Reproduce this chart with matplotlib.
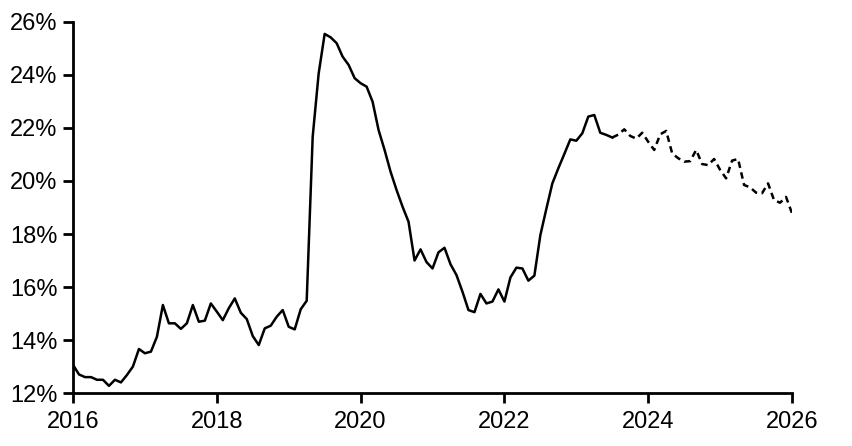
import numpy as np
import matplotlib
matplotlib.use("Agg")
import matplotlib.pyplot as plt
from matplotlib.ticker import FuncFormatter

plt.rcParams['font.family'] = ['Liberation Sans Narrow', 'Liberation Sans', 'DejaVu Sans']

# monthly values, Jan 2016 .. Jan 2026 (in %)
y2016 = [13.06, 12.70, 12.60, 12.60, 12.50, 12.50, 12.27, 12.50, 12.40, 12.68, 13.00, 13.66]
y2017 = [13.50, 13.56, 14.12, 15.32, 14.63, 14.63, 14.42, 14.63, 15.32, 14.69, 14.73, 15.38]
y2018 = [15.07, 14.75, 15.20, 15.57, 15.03, 14.79, 14.15, 13.81, 14.44, 14.54, 14.88, 15.13]
y2019 = [14.50, 14.40, 15.16, 15.48, 21.67, 24.06, 25.55, 25.42, 25.20, 24.69, 24.38, 23.88]
y2020 = [23.69, 23.56, 22.99, 21.92, 21.17, 20.35, 19.66, 19.03, 18.46, 17.00, 17.42, 16.94]
y2021 = [16.70, 17.31, 17.48, 16.86, 16.45, 15.82, 15.13, 15.05, 15.74, 15.38, 15.45, 15.91]
y2022 = [15.45, 16.36, 16.73, 16.70, 16.24, 16.43, 17.96, 18.95, 19.91, 20.48, 21.02, 21.57]
y2023 = [21.52, 21.80, 22.43, 22.49, 21.82, 21.74, 21.64, 21.75, 21.95, 21.70, 21.60, 21.82]
y2024 = [21.48, 21.17, 21.76, 21.89, 21.04, 20.86, 20.73, 20.75, 21.17, 20.64, 20.60, 20.83]
y2025 = [20.42, 20.10, 20.77, 20.83, 19.85, 19.76, 19.56, 19.54, 19.91, 19.28, 19.18, 19.40]
y2026 = [18.78]

values = np.array(y2016 + y2017 + y2018 + y2019 + y2020 + y2021 + y2022
                  + y2023 + y2024 + y2025 + y2026)
dates = 2016 + np.arange(len(values)) / 12
split = 7 * 12 + 6  # Jul 2023: actual -> forecast

fig = plt.figure(figsize=(8.52, 4.46), dpi=100)
ax = fig.add_axes([0.0857, 0.1188, 0.8439, 0.8319])

ax.plot(dates[:split + 1], values[:split + 1], color='black', lw=1.8)
ax.plot(dates[split:], values[split:], color='black', lw=1.8, dashes=(2.6, 1.8))

ax.set_xlim(2016, 2026)
ax.set_ylim(12, 26)
ax.set_xticks(np.arange(2016, 2027, 2))
ax.set_yticks(np.arange(12, 27, 2))
ax.yaxis.set_major_formatter(FuncFormatter(lambda v, p: f"{v:.0f}%"))

for s in ['top', 'right']:
    ax.spines[s].set_visible(False)
for s in ['left', 'bottom']:
    ax.spines[s].set_linewidth(2)
ax.tick_params(axis='both', length=7, width=2, labelsize=17, colors='black')
ax.tick_params(axis='x', pad=6)
ax.tick_params(axis='y', pad=4)

fig.savefig("out.png", dpi=100)
